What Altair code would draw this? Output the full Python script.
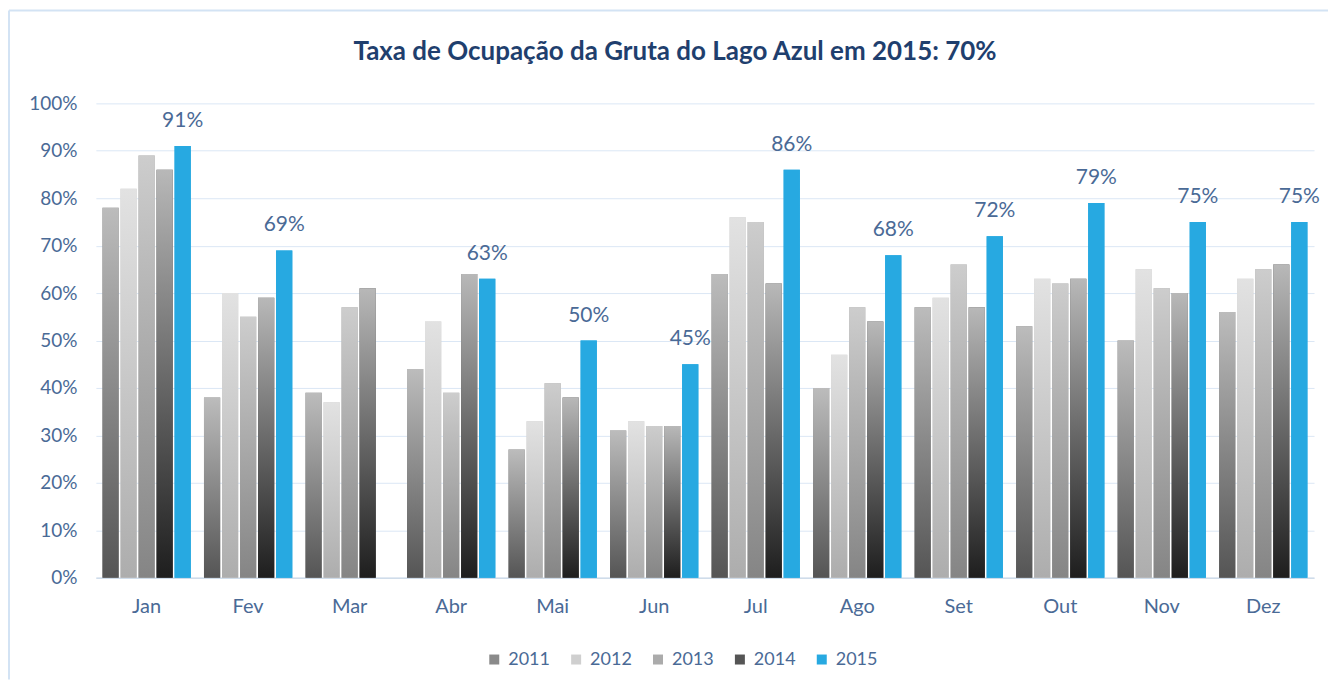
import altair as alt
import pandas as pd

months = ["Jan", "Fev", "Mar", "Abr", "Mai", "Jun", "Jul", "Ago", "Set", "Out", "Nov", "Dez"]
years = ["2011", "2012", "2013", "2014", "2015"]

v2011 = [78, 38, 39, 44, 27, 31, 64, 40, 57, 53, 50, 56]
v2012 = [82, 60, 37, 54, 33, 33, 76, 47, 59, 63, 65, 63]
v2013 = [89, 55, 57, 39, 41, 32, 75, 57, 66, 62, 61, 65]
v2014 = [86, 59, 61, 64, 38, 32, 62, 54, 57, 63, 60, 66]
v2015 = [91, 69, None, 63, 50, 45, 86, 68, 72, 79, 75, 75]

title_text = "Taxa de Ocupação da Gruta do Lago Azul em 2015: 70%"

series = {"2011": v2011, "2012": v2012, "2013": v2013, "2014": v2014, "2015": v2015}
rows = []
for y, vals in series.items():
    for m, v in zip(months, vals):
        if v is not None:
            rows.append({"mes": m, "ano": y, "valor": v / 100.0})
df = pd.DataFrame(rows)

flat_colors = ["#8a8a8a", "#cfcfcf", "#ababab", "#555555", "#27a9e1"]
gradients = {
    "2011": ("#bcbcbc", "#555555"),
    "2012": ("#e2e2e2", "#adadad"),
    "2013": ("#cdcdcd", "#858585"),
    "2014": ("#b8b8b8", "#1e1e1e"),
    "2015": ("#27a9e1", "#27a9e1"),
}

label_color = "#4a6a96"
font = "Lato"

x_enc = alt.X("mes:N", sort=months, title=None,
              scale=alt.Scale(paddingInner=0.13, paddingOuter=0.065),
              axis=alt.Axis(labelAngle=0, labelColor=label_color, labelFontSize=20,
                            labelFont=font, ticks=False, domainColor="#cfdcea",
                            labelPadding=19, domainWidth=1.5))
y_enc = alt.Y("valor:Q", title=None,
              scale=alt.Scale(domain=[0, 1]),
              axis=alt.Axis(format=".0%", values=[i / 10 for i in range(11)],
                            labelColor=label_color, labelFontSize=19, labelFont=font,
                            ticks=False, domain=False, gridColor="#dbe7f5",
                            labelPadding=19))
xo_enc = alt.XOffset("ano:N", scale=alt.Scale(domain=years, paddingInner=0.1))

base = alt.Chart(df)

legend_layer = base.mark_bar().encode(
    x=x_enc, y=y_enc, xOffset=xo_enc,
    color=alt.Color("ano:N", scale=alt.Scale(domain=years, range=flat_colors),
                    legend=alt.Legend(title=None, orient="none", direction="horizontal",
                                      legendX=390, legendY=548,
                                      labelColor=label_color, labelFontSize=18, labelFont=font,
                                      symbolType="square", symbolSize=100,
                                      symbolStrokeWidth=0, columnPadding=17,
                                      labelOffset=5)),
)

layers = [legend_layer]
for y in years:
    top, bot = gradients[y]
    grad = alt.LinearGradient(
        gradient="linear", x1=0, x2=0, y1=0, y2=1,
        stops=[alt.GradientStop(color=top, offset=0), alt.GradientStop(color=bot, offset=1)],
    )
    layers.append(
        base.transform_filter(alt.datum.ano == y).mark_bar(color=grad).encode(
            x=x_enc, y=y_enc, xOffset=xo_enc
        )
    )

labels = base.transform_filter(alt.datum.ano == "2015").mark_text(
    baseline="bottom", dy=-15, fontSize=21, font=font, color=label_color
).encode(x=x_enc, y=y_enc, xOffset=xo_enc, text=alt.Text("valor:Q", format=".0%"))
layers.append(labels)

# chart title drawn as text, inside the light blue frame
title_df = pd.DataFrame({"t": [title_text]})
title_layer = alt.Chart(title_df).mark_text(
    fontSize=26, font=font, fontWeight="bold", color="#1f3f6e",
    align="center", baseline="middle"
).encode(x=alt.value(580), y=alt.value(-51), text="t:N")
layers.append(title_layer)

# light blue frame (top and left edges) around the chart
frame_color = "#d3e3f4"
frame_top = alt.Chart(title_df).mark_rule(color=frame_color, strokeWidth=2).encode(
    x=alt.value(-87), x2=alt.value(1234), y=alt.value(-93)
)
frame_left = alt.Chart(title_df).mark_rule(color=frame_color, strokeWidth=2).encode(
    x=alt.value(-87), y=alt.value(-93), y2=alt.value(577)
)
layers = [frame_top, frame_left] + layers

chart = alt.layer(*layers).properties(
    width=1220, height=475,
    padding={"left": 0, "top": 1, "right": 0, "bottom": 0},
).configure(background="white").configure_view(stroke=None, strokeWidth=0)

chart.save("out.html", embed_options={"renderer": "svg", "actions": False})
